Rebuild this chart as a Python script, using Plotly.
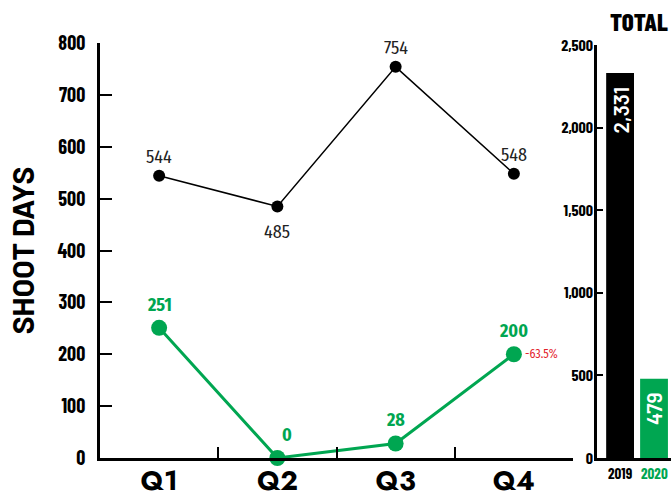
import plotly.graph_objects as go

quarters = ["Q1", "Q2", "Q3", "Q4"]
days_2019 = [544, 485, 754, 548]
days_2020 = [251, 0, 28, 200]
change_q4 = "-63.5%"

years = ["2019", "2020"]
totals = [2331, 479]
total_labels = ["2,331", "479"]

left_ticks = [0, 100, 200, 300, 400, 500, 600, 700, 800]
right_ticks = [0, 500, 1000, 1500, 2000, 2500]
right_ticktext = ["0", "500", "1,000", "1,500", "2,000", "2,500"]

BLACK = "#000000"
GREEN = "#00A651"
RED = "#E3232C"
COND = "Barlow Condensed, sans-serif"
WIDEB = "Barlow, sans-serif"
HUM = "Fira Sans Condensed, sans-serif"
GEO = "Jost, sans-serif"

W, H = 671, 491

fig = go.Figure()

fig.add_trace(go.Scatter(
    x=quarters, y=days_2019, mode="lines+markers",
    line=dict(color=BLACK, width=1.5),
    marker=dict(color=BLACK, size=12),
    cliponaxis=False, xaxis="x", yaxis="y", showlegend=False,
))

fig.add_trace(go.Scatter(
    x=quarters, y=days_2020, mode="lines+markers",
    line=dict(color=GREEN, width=3),
    marker=dict(color=GREEN, size=16),
    cliponaxis=False, xaxis="x", yaxis="y", showlegend=False,
))

fig.add_trace(go.Bar(
    x=years, y=totals, marker=dict(color=[BLACK, GREEN], line=dict(width=0)),
    width=0.82,
    xaxis="x2", yaxis="y2", showlegend=False,
))

annotations = []

black_below = [False, True, False, False]
for i, (v, below) in enumerate(zip(days_2019, black_below)):
    annotations.append(dict(
        x=i, y=v, xref="x", yref="y", text=str(v), showarrow=False,
        xanchor="center", yanchor="top" if below else "bottom",
        yshift=-13 if below else 6,
        font=dict(family=HUM, size=18, color="#222222")))

green_shift_x = [0, 10, 0, 0]
for i, (v, dx) in enumerate(zip(days_2020, green_shift_x)):
    annotations.append(dict(
        x=i, y=v, xref="x", yref="y", text=str(v), showarrow=False,
        xanchor="center", yanchor="bottom", xshift=dx, yshift=10,
        font=dict(family=HUM, size=18, color=GREEN, weight="bold")))

year_colors = [BLACK, GREEN]
for i, (yr, v, lab, col) in enumerate(zip(years, totals, total_labels, year_colors)):
    annotations.append(dict(
        x=i, y=v, xref="x2", yref="y2", text=lab, showarrow=False, textangle=-90,
        xanchor="center", yanchor="top", yshift=-12,
        font=dict(family=WIDEB, size=21, color="white", weight=600)))
    annotations.append(dict(
        x=i, y=0, xref="x2", yref="y2", text=yr, showarrow=False,
        yanchor="top", yshift=-4,
        font=dict(family=COND, size=15, color=col, weight="bold")))

annotations += [
    dict(x=len(quarters) - 1, y=days_2020[-1], xref="x", yref="y", text=change_q4, showarrow=False,
         xanchor="left", yanchor="middle", xshift=9,
         font=dict(family=HUM, size=12, color=RED)),
    dict(x=608 / W, y=(H - 21) / H, xref="paper", yref="paper", text="TOTAL", showarrow=False,
         xanchor="left", yanchor="middle",
         font=dict(family=COND, size=25, color=BLACK, weight=800)),
]

fig.update_layout(
    width=W, height=H,
    margin=dict(l=0, r=0, t=0, b=0),
    paper_bgcolor="white", plot_bgcolor="white",
    xaxis=dict(
        domain=[100 / W, 573 / W], range=[-0.5, 3.5], type="category", automargin=False,
        showline=True, linecolor=BLACK, linewidth=2.5, showgrid=False, zeroline=False,
        ticks="inside", tickson="boundaries", ticklen=11, tickwidth=2, tickcolor=BLACK,
        tickfont=dict(family=GEO, size=27, color=BLACK, weight="bold"),
        ticklabelstandoff=-3,
        anchor="y",
    ),
    yaxis=dict(
        domain=[(H - 458) / H, (H - 43) / H], range=[0, 800], automargin=False,
        tickvals=left_ticks,
        showline=True, linecolor=BLACK, linewidth=2.5, showgrid=False, zeroline=False,
        ticks="inside", ticklen=12, tickwidth=2, tickcolor=BLACK,
        tickfont=dict(family=COND, size=20, color=BLACK, weight="bold"),
        ticklabelstandoff=8,
        title=dict(text="SHOOT DAYS", font=dict(family=WIDEB, size=30, color=BLACK, weight="bold"), standoff=14),
        anchor="x",
    ),
    xaxis2=dict(
        domain=[597 / W, 1.0], range=[-0.68, 1.5], type="category", automargin=False,
        showline=True, linecolor=BLACK, linewidth=2.5, showgrid=False, zeroline=False,
        ticks="", showticklabels=False, anchor="y2",
    ),
    yaxis2=dict(
        domain=[(H - 458) / H, (H - 45) / H], range=[0, 2500], automargin=False,
        tickvals=right_ticks, ticktext=right_ticktext,
        showline=True, linecolor=BLACK, linewidth=2.5, showgrid=False, zeroline=False,
        ticks="inside", ticklen=6, tickwidth=2, tickcolor=BLACK,
        tickfont=dict(family=COND, size=16, color=BLACK, weight="bold"),
        ticklabelstandoff=-2,
        anchor="x2",
    ),
    annotations=annotations,
)

fig.write_html("out.html", config={"displayModeBar": False},
               post_script="document.body.style.margin='0px';")
